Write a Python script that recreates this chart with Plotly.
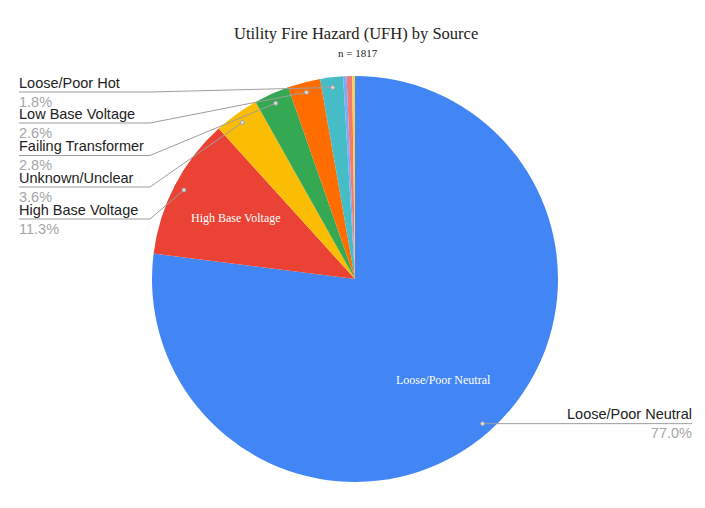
import math
import plotly.graph_objects as go

# ---- data ----
categories = ["Loose/Poor Neutral", "High Base Voltage", "Unknown/Unclear",
              "Failing Transformer", "Low Base Voltage", "Loose/Poor Hot",
              "Other A", "Other B", "Other C"]
counts = [1399, 205, 65, 51, 47, 33, 5, 8, 4]
colors = ["#4285f4", "#ea4335", "#fbbc04", "#34a853", "#ff6d01", "#46bdc6",
          "#7baaf7", "#f07b72", "#fcd04f"]
title_text = "Utility Fire Hazard (UFH) by Source"
subtitle_text = "n = 1817"
left_labels = ["Loose/Poor Hot", "Low Base Voltage", "Failing Transformer",
               "Unknown/Unclear", "High Base Voltage"]
right_labels = ["Loose/Poor Neutral"]
inside_labels = ["High Base Voltage", "Loose/Poor Neutral"]

# ---- layout geometry (pixels) ----
W, H = 705, 508
CX, CY, R = 355, 279, 203

def px(x):
    return x / W

def py(y):
    return 1 - y / H

total = sum(counts)
fracs = [c / total for c in counts]
mids = {}
cum = 0.0
for cat, f in zip(categories, fracs):
    mids[cat] = (cum + f / 2) * 2 * math.pi
    cum += f

def point(cat, rfrac):
    a = mids[cat]
    return CX + math.sin(a) * R * rfrac, CY - math.cos(a) * R * rfrac

pct = {c: f"{f*100:.1f}%" for c, f in zip(categories, fracs)}

fig = go.Figure(go.Pie(
    labels=categories, values=counts, sort=False, direction="clockwise",
    rotation=0, marker=dict(colors=colors, line=dict(width=0)),
    textinfo="none", showlegend=False,
    domain=dict(x=[px(CX - R), px(CX + R)], y=[py(CY + R), py(CY - R)]),
))

shapes = []
annotations = []
FS = 14.5
label_font = dict(family="Liberation Sans, Arial, sans-serif", size=FS, color="#222222")
pct_color = "#a6a6a6"
line_col = "#9e9e9e"

def label_html(cat):
    return f"{cat}<br><span style='color:{pct_color}'>{pct[cat]}</span>"

underline_y = [92, 123, 155.5, 187, 219]
LX, UX = 19, 150
for cat, uy in zip(left_labels, underline_y):
    dx, dy = point(cat, 0.95)
    shapes.append(dict(type="path", xref="paper", yref="paper",
                       path=f"M {px(LX)},{py(uy)} L {px(UX)},{py(uy)} L {px(dx)},{py(dy)}",
                       line=dict(color=line_col, width=1)))
    shapes.append(dict(type="circle", xref="paper", yref="paper",
                       x0=px(dx - 2), x1=px(dx + 2), y0=py(dy + 2), y1=py(dy - 2),
                       line=dict(color=line_col, width=1), fillcolor="#dddddd"))
    annotations.append(dict(text=label_html(cat), x=px(LX - 1), y=py(uy), xref="paper", yref="paper",
                            xanchor="left", yanchor="middle", align="left", showarrow=False,
                            font=label_font, borderpad=0))

RX = 692
for cat in right_labels:
    dx, dy = point(cat, 0.95)
    shapes.append(dict(type="line", xref="paper", yref="paper",
                       x0=px(dx), y0=py(dy), x1=px(RX), y1=py(dy),
                       line=dict(color=line_col, width=1)))
    shapes.append(dict(type="circle", xref="paper", yref="paper",
                       x0=px(dx - 2), x1=px(dx + 2), y0=py(dy + 2), y1=py(dy - 2),
                       line=dict(color=line_col, width=1), fillcolor="#dddddd"))
    annotations.append(dict(text=label_html(cat), x=px(RX + 1), y=py(dy), xref="paper", yref="paper",
                            xanchor="right", yanchor="middle", align="right", showarrow=False,
                            font=label_font, borderpad=0))

for cat in inside_labels:
    ix, iy = point(cat, 0.66)
    annotations.append(dict(text=cat, x=px(ix), y=py(iy + 1), xref="paper", yref="paper",
                            xanchor="center", yanchor="middle", showarrow=False,
                            font=dict(family="Liberation Serif, Times New Roman, serif",
                                      size=12, color="#ffffff")))

annotations.append(dict(text=title_text, x=px(356), y=py(33), xref="paper", yref="paper",
                        xanchor="center", yanchor="middle", showarrow=False,
                        font=dict(family="Liberation Serif, Times New Roman, serif",
                                  size=16.5, color="#222222")))
annotations.append(dict(text=subtitle_text, x=px(358), y=py(53), xref="paper", yref="paper",
                        xanchor="center", yanchor="middle", showarrow=False,
                        font=dict(family="Liberation Serif, Times New Roman, serif",
                                  size=11, color="#222222")))

fig.update_layout(width=W, height=H, margin=dict(l=0, r=0, t=0, b=0),
                  paper_bgcolor="white", plot_bgcolor="white",
                  shapes=shapes, annotations=annotations)

fig.write_html("out.html")
